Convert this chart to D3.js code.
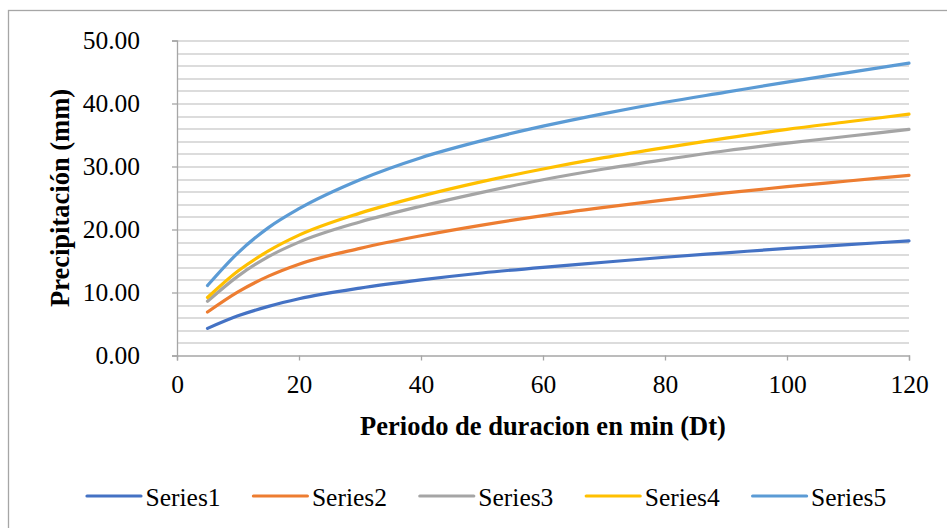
<!DOCTYPE html>
<html>
<head>
<meta charset="utf-8">
<script src="https://cdn.jsdelivr.net/npm/d3@7"></script>
<style>
  body { margin: 0; background: #fff; }
</style>
</head>
<body>
<div id="chart"></div>
<script>
// durations (min)
var durations = [5, 10, 15, 20, 30, 40, 50, 60, 70, 80, 90, 100, 110, 120];
var series1 = [4.3, 6.3, 7.8, 9.0, 10.7, 12.0, 13.1, 14.0, 14.8, 15.6, 16.3, 17.0, 17.6, 18.2];
var series2 = [6.9, 10.1, 12.6, 14.5, 17.0, 19.0, 20.7, 22.2, 23.5, 24.7, 25.8, 26.8, 27.7, 28.6];
var series3 = [8.6, 12.6, 15.7, 18.0, 21.2, 23.7, 25.9, 27.9, 29.6, 31.1, 32.5, 33.7, 34.8, 35.9];
var series4 = [9.2, 13.4, 16.6, 19.1, 22.6, 25.3, 27.6, 29.6, 31.4, 33.0, 34.5, 35.9, 37.1, 38.3];
var series5 = [11.1, 16.3, 20.3, 23.3, 27.9, 31.4, 34.1, 36.4, 38.4, 40.2, 41.8, 43.4, 44.9, 46.4];
var seriesNames = ["Series1", "Series2", "Series3", "Series4", "Series5"];
var colors = ["#4472C4", "#ED7D31", "#A5A5A5", "#FFC000", "#5B9BD5"];
var xTicks = [0, 20, 40, 60, 80, 100, 120];
var yTicks = [0, 10, 20, 30, 40, 50];

var allSeries = [series1, series2, series3, series4, series5];

var FONT = "'Liberation Serif', 'Times New Roman', serif";

var W = 947, H = 528;
var margin = { top: 40.5, right: 38, bottom: 172.5, left: 177 };
var width = W - margin.left - margin.right,
  height = H - margin.top - margin.bottom;

var svg = d3.select("#chart")
  .append("svg")
  .attr("width", W)
  .attr("height", H)
  .attr("font-family", FONT);

// chart border (right and bottom run off the picture)
svg.append("rect")
  .attr("x", 8.5)
  .attr("y", 10.5)
  .attr("width", 1000)
  .attr("height", 1000)
  .attr("fill", "none")
  .attr("stroke", "#a6a6a6")
  .attr("stroke-width", 1.3);

var g = svg.append("g")
  .attr("transform", "translate(" + margin.left + "," + margin.top + ")");

var x = d3.scaleLinear().domain([0, 120]).range([0, width]);
var y = d3.scaleLinear().domain([0, 50]).range([height, 0]);

// minor gridlines every 2 mm
g.append("g")
  .selectAll("line")
  .data(d3.range(2, 51, 2))
  .enter()
  .append("line")
  .attr("x1", 0)
  .attr("x2", width)
  .attr("y1", function (d) { return Math.round(y(d)) + 0.5; })
  .attr("y2", function (d) { return Math.round(y(d)) + 0.5; })
  .attr("stroke", "#d0d0d0")
  .attr("stroke-width", 1.3);

// y axis
var yAxis = g.append("g")
  .call(d3.axisLeft(y).tickValues(yTicks).tickSize(5).tickPadding(32)
    .tickFormat(d3.format(".2f")));
yAxis.attr("font-family", FONT);
yAxis.select(".domain").attr("stroke", "#a6a6a6").attr("stroke-width", 1.3);
yAxis.selectAll(".tick line").attr("stroke", "#a6a6a6").attr("stroke-width", 1.3);
yAxis.selectAll("text")
  .style("font-family", FONT)
  .style("font-size", "25.5px")
  .attr("fill", "#000");

// x axis
var xAxis = g.append("g")
  .attr("transform", "translate(0," + height + ")")
  .call(d3.axisBottom(x).tickValues(xTicks).tickSize(5).tickPadding(14));
xAxis.attr("font-family", FONT);
xAxis.select(".domain").attr("stroke", "#a6a6a6").attr("stroke-width", 1.3);
xAxis.selectAll(".tick line").attr("stroke", "#a6a6a6").attr("stroke-width", 1.3);
xAxis.selectAll("text")
  .style("font-family", FONT)
  .style("font-size", "25.5px")
  .attr("fill", "#000");

// lines
var line = d3.line()
  .x(function (d, i) { return x(durations[i]); })
  .y(function (d) { return y(d); })
  .curve(d3.curveMonotoneX);

g.selectAll(".series")
  .data(allSeries)
  .enter()
  .append("path")
  .attr("class", "series")
  .attr("d", line)
  .attr("fill", "none")
  .attr("stroke", function (d, i) { return colors[i]; })
  .attr("stroke-width", 3.2)
  .attr("stroke-linecap", "round");

// axis titles
g.append("text")
  .attr("text-anchor", "middle")
  .attr("x", width / 2)
  .attr("y", height + 79)
  .style("font-family", FONT)
  .style("font-size", "26.5px")
  .style("font-weight", "bold")
  .text("Periodo de duracion en min (Dt)");

g.append("text")
  .attr("text-anchor", "middle")
  .attr("transform", "rotate(-90)")
  .attr("x", -height / 2)
  .attr("y", -108)
  .style("font-family", FONT)
  .style("font-size", "26.5px")
  .style("font-weight", "bold")
  .text("Precipitación (mm)");

// legend
var legend = svg.append("g")
  .attr("transform", "translate(87,496)");

var item = legend.selectAll(".item")
  .data(seriesNames)
  .enter()
  .append("g")
  .attr("class", "item")
  .attr("transform", function (d, i) { return "translate(" + (i * 166.4) + ",0)"; });

item.append("line")
  .attr("x1", 0)
  .attr("x2", 54)
  .attr("stroke", function (d, i) { return colors[i]; })
  .attr("stroke-width", 3.2)
  .attr("stroke-linecap", "round");

item.append("text")
  .attr("x", 58.5)
  .attr("y", 10)
  .style("font-family", FONT)
  .style("font-size", "25.5px")
  .text(function (d) { return d; });
</script>
</body>
</html>
